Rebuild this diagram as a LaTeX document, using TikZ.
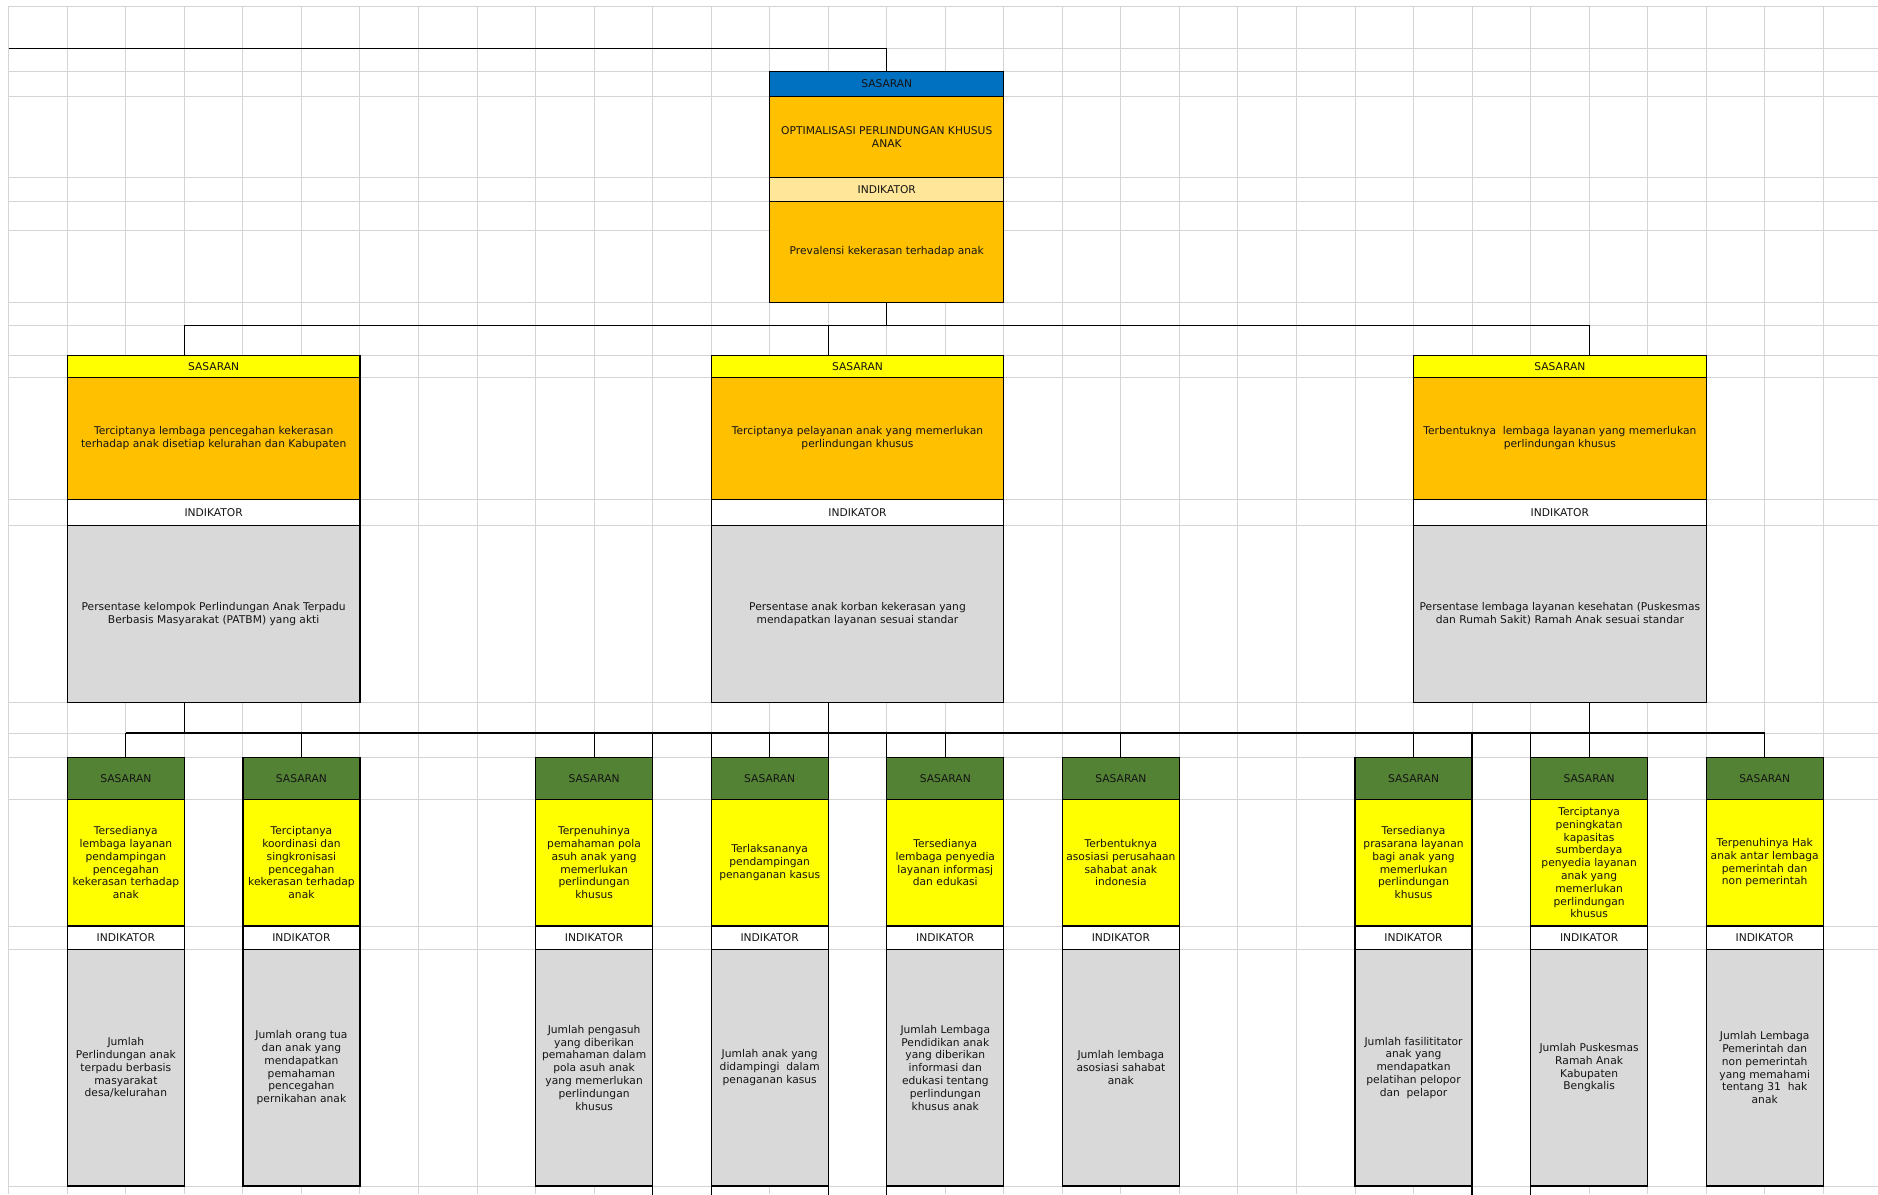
\documentclass[tikz,border=0pt]{standalone}
\usepackage{fontspec}
\setmainfont{DejaVu Sans}
\usetikzlibrary{positioning,calc}
\definecolor{sasBlue}  {RGB}{  0,112,192}
\definecolor{sasOrange}{RGB}{255,192,  0}
\definecolor{sasCream} {RGB}{255,230,153}
\definecolor{sasYellow}{RGB}{255,255,  0}
\definecolor{sasGreen} {RGB}{ 84,130, 53}
\definecolor{sasGrey}  {RGB}{217,217,217}
\definecolor{sheetGrey}{RGB}{212,212,212}
\definecolor{sasText}  {RGB}{ 20, 20, 20}
\newcommand{\boxfont}{\fontsize{5.35pt}{6.4pt}\selectfont}
% one third-level block: number, column, goal text, indicator text
\newcommand{\sasbot}[4]{%
  \node[botw,fill=sasGreen,minimum height=21pt,anchor=north west]
     (Bh#1) at ({8.8+58.53*#2},757.3) {SASARAN};
  \node[botw,fill=sasYellow,minimum height=63.35pt,below=0pt of Bh#1] (Bt#1) {#3};
  \node[botw,fill=white,minimum height=11.75pt,below=0pt of Bt#1] (Bi#1) {INDIKATOR};
  \node[botw,fill=sasGrey,minimum height=118.25pt,below=0pt of Bi#1] (Bv#1) {#4};
}

\begin{document}
\begin{tikzpicture}[x=0.5pt,y=-0.5pt,
  every node/.style={font=\boxfont,text=sasText},
  sheetline/.style={draw=sheetGrey,line width=0.5pt},
  link/.style={draw=black,line width=0.6pt},
  cell/.style={draw=black,line width=0.65pt,outer sep=0pt,inner sep=1pt,
               align=center},
  topw/.style={cell,minimum width=117.06pt},
  midw/.style={cell,minimum width=146.33pt},
  botw/.style={cell,minimum width=58.53pt}
]
\useasboundingbox (0,0) rectangle (1878,1194);
\fill[white] (0,0) rectangle (1878,1194);

% spreadsheet grid
\foreach \k in {0,...,31}
  \draw[sheetline] ({8.8+58.53*\k},6) -- ({8.8+58.53*\k},1194);
\foreach \r in {6,48.3,71.7,96.3,177.3,201.3,230,302.3,325.7,355.6,377.3,
                499.3,525.3,702.3,733,757.3,799.3,926,949.5,1186}
  \draw[sheetline] (8.8,\r) -- (1878,\r);

% top level
\node[topw,fill=sasBlue,minimum height=12.3pt,anchor=north west]
   (Th) at (769.69,71.7) {SASARAN};
\node[topw,fill=sasOrange,minimum height=40.5pt,below=0pt of Th]
   (Tt) {OPTIMALISASI PERLINDUNGAN KHUSUS\\ANAK};
\node[topw,fill=sasCream,minimum height=12pt,below=0pt of Tt] (Ti) {INDIKATOR};
\node[topw,fill=sasOrange,minimum height=50.5pt,below=0pt of Ti]
   (Tv) {Prevalensi kekerasan terhadap anak};

% second level, left
\node[midw,fill=sasYellow,minimum height=10.85pt,anchor=north west]
   (Lh) at (67.33,355.6) {SASARAN};
\node[midw,fill=sasOrange,minimum height=61pt,below=0pt of Lh]
   (Lt) {Terciptanya lembaga pencegahan kekerasan\\terhadap anak disetiap kelurahan dan Kabupaten};
\node[midw,fill=white,minimum height=13pt,below=0pt of Lt] (Li) {INDIKATOR};
\node[midw,fill=sasGrey,minimum height=88.5pt,below=0pt of Li]
   (Lv) {Persentase kelompok Perlindungan Anak Terpadu\\Berbasis Masyarakat (PATBM) yang akti};

% second level, middle
\node[midw,fill=sasYellow,minimum height=10.85pt,anchor=north west]
   (Mh) at (711.16,355.6) {SASARAN};
\node[midw,fill=sasOrange,minimum height=61pt,below=0pt of Mh]
   (Mt) {Terciptanya pelayanan anak yang memerlukan\\perlindungan khusus};
\node[midw,fill=white,minimum height=13pt,below=0pt of Mt] (Mi) {INDIKATOR};
\node[midw,fill=sasGrey,minimum height=88.5pt,below=0pt of Mi]
   (Mv) {Persentase anak korban kekerasan yang\\mendapatkan layanan sesuai standar};

% second level, right
\node[midw,fill=sasYellow,minimum height=10.85pt,anchor=north west]
   (Rh) at (1413.52,355.6) {SASARAN};
\node[midw,fill=sasOrange,minimum height=61pt,below=0pt of Rh]
   (Rt) {Terbentuknya\ \ lembaga layanan yang memerlukan\\perlindungan khusus};
\node[midw,fill=white,minimum height=13pt,below=0pt of Rt] (Ri) {INDIKATOR};
\node[midw,fill=sasGrey,minimum height=88.5pt,below=0pt of Ri]
   (Rv) {Persentase lembaga layanan kesehatan (Puskesmas\\dan Rumah Sakit) Ramah Anak sesuai standar};

% third level
\sasbot{1}{1}{Tersedianya\\lembaga layanan\\pendampingan\\pencegahan\\kekerasan terhadap\\anak}
  {Jumlah\\Perlindungan anak\\terpadu berbasis\\masyarakat\\desa/kelurahan}
\sasbot{2}{4}{Terciptanya\\koordinasi dan\\singkronisasi\\pencegahan\\kekerasan terhadap\\anak}
  {Jumlah orang tua\\dan anak yang\\mendapatkan\\pemahaman\\pencegahan\\pernikahan anak}
\sasbot{3}{9}{Terpenuhinya\\pemahaman pola\\asuh anak yang\\memerlukan\\perlindungan\\khusus}
  {Jumlah pengasuh\\yang diberikan\\pemahaman dalam\\pola asuh anak\\yang memerlukan\\perlindungan\\khusus}
\sasbot{4}{12}{Terlaksananya\\pendampingan\\penanganan kasus}
  {Jumlah anak yang\\didampingi\ \ dalam\\penaganan kasus}
\sasbot{5}{15}{Tersedianya\\lembaga penyedia\\layanan informasj\\dan edukasi}
  {Jumlah Lembaga\\Pendidikan anak\\yang diberikan\\informasi dan\\edukasi tentang\\perlindungan\\khusus anak}
\sasbot{6}{18}{Terbentuknya\\asosiasi perusahaan\\sahabat anak\\indonesia}
  {Jumlah lembaga\\asosiasi sahabat\\anak}
\sasbot{7}{23}{Tersedianya\\prasarana layanan\\bagi anak yang\\memerlukan\\perlindungan\\khusus}
  {Jumlah fasilititator\\anak yang\\mendapatkan\\pelatihan pelopor\\dan\ \ pelapor}
\sasbot{8}{26}{Terciptanya\\peningkatan\\kapasitas\\sumberdaya\\penyedia layanan\\anak yang\\memerlukan\\perlindungan\\khusus}
  {Jumlah Puskesmas\\Ramah Anak\\Kabupaten\\Bengkalis}
\sasbot{9}{29}{Terpenuhinya Hak\\anak antar lembaga\\pemerintah dan\\non pemerintah}
  {Jumlah Lembaga\\Pemerintah dan\\non pemerintah\\yang memahami\\tentang 31\ \ hak\\anak}

% connectors
\coordinate (topL) at (8.8,48.3);
\draw[link] (topL) -| (Th.north);
\draw[link] (Tv.south) -- ++(0,23.4) coordinate (busA);
\draw[link] ($(Lh.north west)+(117.06,0)$) |- (busA)
            -| ($(Rh.north west)+(175.59,0)$);
\draw[link] ($(Mh.north west)+(117.06,0)$) -- ++(0,-29.9);

\draw[link] ($(Lv.south west)+(117.06,0)$) -- ++(0,30.7) coordinate (busB);
\draw[link] ($(Mv.south west)+(117.06,0)$) -- ++(0,30.7);
\draw[link] ($(Rv.south west)+(175.59,0)$) -- ++(0,30.7);
\draw[link] (Bh1.north |- busB) -- (Bh9.north |- busB);
\foreach \n in {1,...,9}
  \draw[link] (Bh\n.north |- busB) -- (Bh\n.north);

% cell borders running past the boxes
\foreach \a/\b in {Bh3.north east/Bv3.south east, Bh4.north west/Bv4.south west,
                   Bh4.north east/Bv4.south east, Bh5.north west/Bv5.south west,
                   Bh7.north east/Bv7.south east, Bh8.north west/Bv8.south west}{
  \draw[link] (\a) -- (\a |- busB);
  \draw[link] (\b) -- ++(0,10);
}
\end{tikzpicture}
\end{document}
